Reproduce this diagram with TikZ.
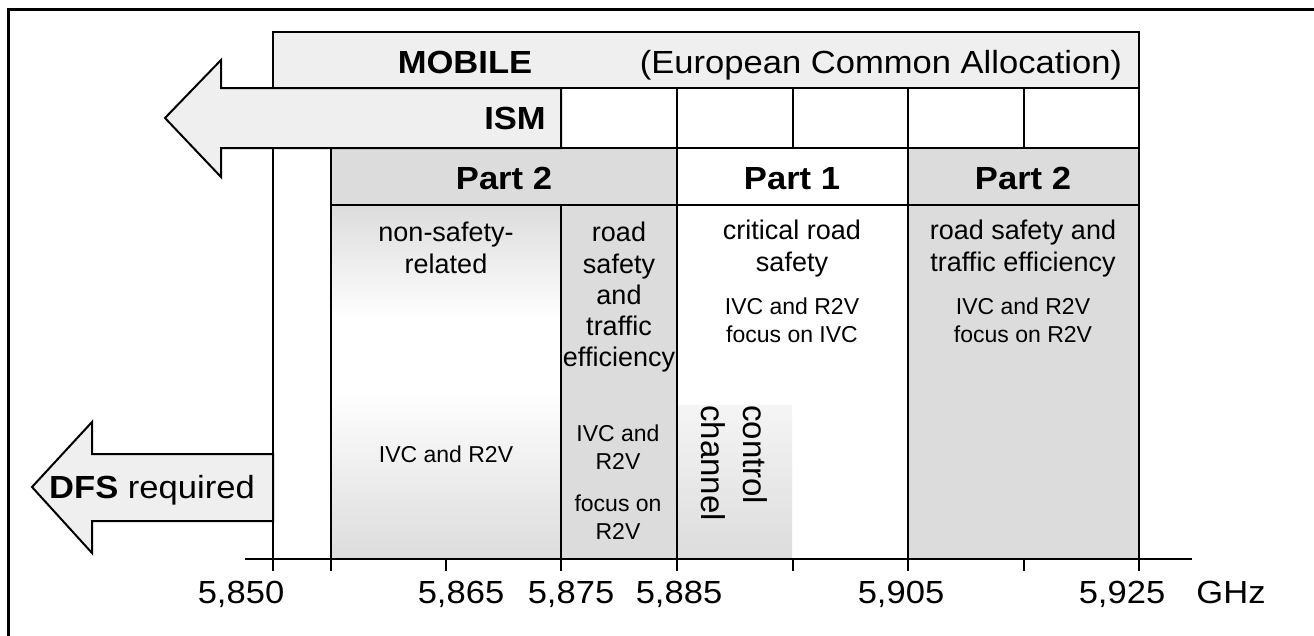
\documentclass[tikz,border=0pt]{standalone}
\usepackage{fontspec}
\setmainfont{Liberation Sans}
\newfontfamily\widesf[FakeStretch=1.08]{Liberation Sans}
\definecolor{bandgray}{HTML}{DCDCDC}
\definecolor{mobgray}{HTML}{EFEFEF}

\begin{document}
\begin{tikzpicture}[x=1pt, y=-1pt,
	bigtext/.style={font=\widesf\fontsize{32}{38}\selectfont, inner sep=0pt},
	headtext/.style={font=\fontsize{27}{31.3}\selectfont, align=center, inner sep=0pt},
	smalltext/.style={font=\fontsize{23}{28}\selectfont, align=center, inner sep=0pt},
	bandline/.style={line width=2pt},
	innerline/.style={line width=1.5pt}]
	\useasboundingbox (0,0) rectangle (1314,635);
	\draw[line width=3pt] (8,645) -- (8,9.5) -- (1325,9.5);
	\fill[bandgray] (331,148) rectangle (677,205);
	\fill[bandgray] (908,148) rectangle (1139,205);
	\shade[top color=bandgray, bottom color=white] (331,205) rectangle (561,320);
	\fill[white] (331,320) rectangle (561,390);
	\shade[top color=white, bottom color=bandgray] (331,390) rectangle (561,559);
	\fill[bandgray] (561,205) rectangle (677,559);
	\shade[top color=white!96!black, bottom color=bandgray] (677,405) rectangle (792,559);
	\fill[bandgray] (908,205) rectangle (1139,559);
	\draw[bandline, fill=mobgray] (273,32) rectangle (1139,88);
	\draw[bandline] (561,88) rectangle (1139,148);
	\foreach \x in {677,793,908,1024}
		\draw[innerline] (\x,88) -- (\x,148);
	\draw[bandline, fill=mobgray] (561,88) -- (221,88) -- (221,60) -- (165,118) -- (221,177) -- (221,148) -- (561,148) -- cycle;
	\draw[bandline] (331,148) rectangle (1139,205);
	\draw[bandline] (677,148) -- (677,205);
	\draw[bandline] (908,148) -- (908,205);
	\draw[bandline] (273,148) -- (273,571);
	\draw[bandline] (331,205) -- (331,571);
	\draw[innerline] (561,205) -- (561,571);
	\draw[bandline] (677,205) -- (677,571);
	\draw[innerline] (908,205) -- (908,571);
	\draw[bandline] (1139,205) -- (1139,571);
	\draw[bandline] (245,559) -- (1192,559);
	\foreach \x in {446,793,1024}
		\draw[bandline] (\x,559) -- (\x,571);
	\draw[bandline, fill=mobgray] (273,454) -- (92,454) -- (92,422) -- (32,487) -- (92,553) -- (92,521) -- (273,521) -- cycle;
	\node[bigtext, anchor=base] (mobile) at (465,73) {\textbf{MOBILE}};
	\node[bigtext, anchor=base] (eca) at (881,73) {(European Common Allocation)};
	\node[bigtext, anchor=base] (ism) at (515,129) {\textbf{ISM}};
	\node[bigtext, anchor=base] (partA) at (504,189) {\textbf{Part 2}};
	\node[bigtext, anchor=base] (partB) at (792,189) {\textbf{Part 1}};
	\node[bigtext, anchor=base] (partC) at (1023,189) {\textbf{Part 2}};
	\node[headtext, anchor=north] (nonsafe) at (446,222) {non-safety-\\related};
	\node[headtext, anchor=north] (roadsafe) at (619,222) {road\\safety\\and\\traffic\\efficiency};
	\node[headtext, anchor=north] (critical) at (792,220) {critical road\\safety};
	\node[headtext, anchor=north] (traffic) at (1023,220) {road safety and\\traffic efficiency};
	\node[smalltext, anchor=north] (useA) at (792,298) {IVC and R2V\\focus on IVC};
	\node[smalltext, anchor=north] (useB) at (1023,298) {IVC and R2V\\focus on R2V};
	\node[smalltext, anchor=base] (useC) at (446,462) {IVC and R2V};
	\node[smalltext, anchor=north] (useD) at (618,425) {IVC and\\R2V};
	\node[smalltext, anchor=north] (useE) at (618,495) {focus on\\R2V};
	\node[font=\fontsize{33}{42}\selectfont, align=left, inner sep=0pt, rotate=-90, anchor=north west] (ctrl) at (768,405) {control\\channel};
	\node[bigtext, anchor=base] (dfs) at (152,498) {\textbf{DFS} required};
	\foreach \x/\t in {241/{5,850}, 461/{5,865}, 571/{5,875}, 679/{5,885}, 901/{5,905}, 1122/{5,925}}
		\node[bigtext, anchor=base] (f\x) at (\x,603) {\t};
	\node[bigtext, anchor=base] (ghz) at (1231,603) {GHz};
\end{tikzpicture}
\end{document}
